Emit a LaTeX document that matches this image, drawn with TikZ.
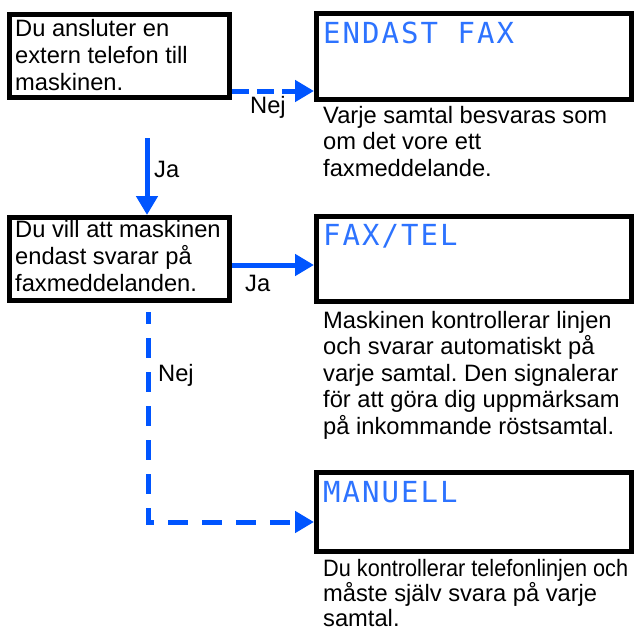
\documentclass[tikz,border=0pt]{standalone}
\usepackage{fontspec}
\setmainfont{Liberation Sans}
\newfontfamily\lcdfont[LetterSpace=7]{DejaVu Sans Mono}
\usetikzlibrary{arrows.meta}
\definecolor{arrowblue}{RGB}{0,85,255}
\definecolor{lcdblue}{RGB}{45,115,255}
\frenchspacing
\begin{document}
\begin{tikzpicture}[x=1pt,y=-1pt,
  box/.style={draw=black,line width=5pt,inner sep=0pt},
  txt/.style={anchor=base west,inner sep=0pt,font=\fontsize{23.7}{27}\selectfont},
  desc/.style={anchor=base west,inner sep=0pt,font=\fontsize{23.7}{26.6}\selectfont},
  lcd/.style={anchor=base west,inner sep=0pt,text=lcdblue,font=\lcdfont\fontsize{29}{30}\selectfont},
  lbl/.style={anchor=base west,inner sep=0pt,font=\fontsize{23.7}{27}\selectfont},
  conn/.style={draw=arrowblue,line width=5pt,-{Triangle[length=19pt,width=21pt]}},
  dconn/.style={conn,dash pattern=on 17pt off 8pt}
]
\useasboundingbox[fill=white] (0,0) rectangle (634,630);

% left question boxes
\node[box,minimum width=220pt,minimum height=83pt] (b1) at (119.5,56) {};
\node[txt] (t1) at (15,36) {\parbox[t]{215pt}{Du ansluter en\\extern telefon till\\maskinen.}};
\node[box,minimum width=220pt,minimum height=83pt] (b3) at (119.5,259) {};
\node[txt] (t3) at (15,237) {\parbox[t]{215pt}{Du vill att maskinen\\endast svarar på\\faxmeddelanden.}};

% right display boxes
\node[box,minimum width=315pt,minimum height=86pt] (b2) at (474,56.5) {};
\node[lcd] (l2) at (323,43) {ENDAST FAX};
\node[box,minimum width=315pt,minimum height=85pt] (b4) at (474,259) {};
\node[lcd] (l4) at (323,245) {FAX/TEL};
\node[box,minimum width=315pt,minimum height=79pt] (b5) at (474,512) {};
\node[lcd] (l5) at (323,502) {MANUELL};

% descriptions
\node[desc] (d2) at (323,123) {\parbox[t]{310pt}{Varje samtal besvaras som\\om det vore ett\\faxmeddelande.}};
\node[desc] (d4) at (323,328) {\parbox[t]{310pt}{Maskinen kontrollerar linjen\\och svarar automatiskt på\\varje samtal. Den signalerar\\för att göra dig uppmärksam\\på inkommande röstsamtal.}};
\node[anchor=base west,inner sep=0pt,font=\fontsize{23.7}{25}\selectfont] (d5) at (323,576) {\parbox[t]{310pt}{\scalebox{0.915}[1]{Du kontrollerar telefonlinjen och}\\måste själv svara på varje\\samtal.}};

% connectors
\draw[dconn] ([yshift=-35pt]b1.east) -- ([yshift=-35pt]b1.east -| b2.west);
\node[lbl] (n1) at (250,113) {Nej};

\coordinate (jaStart) at (147,138);
\draw[conn] (jaStart) -- (jaStart |- b3.north);
\node[lbl] (j1) at (154,177) {Ja};

\draw[conn] ([yshift=-6pt]b3.east) -- ([yshift=-6pt]b3.east -| b4.west);
\node[lbl] (j2) at (245,291) {Ja};

\coordinate (nejStart) at (148,312);
\draw[conn,dash pattern=on 20pt off 14pt,dash phase=8pt] (nejStart) |- ([yshift=-10pt]b5.west);
\node[lbl] (n2) at (158,381) {Nej};
\end{tikzpicture}
\end{document}
